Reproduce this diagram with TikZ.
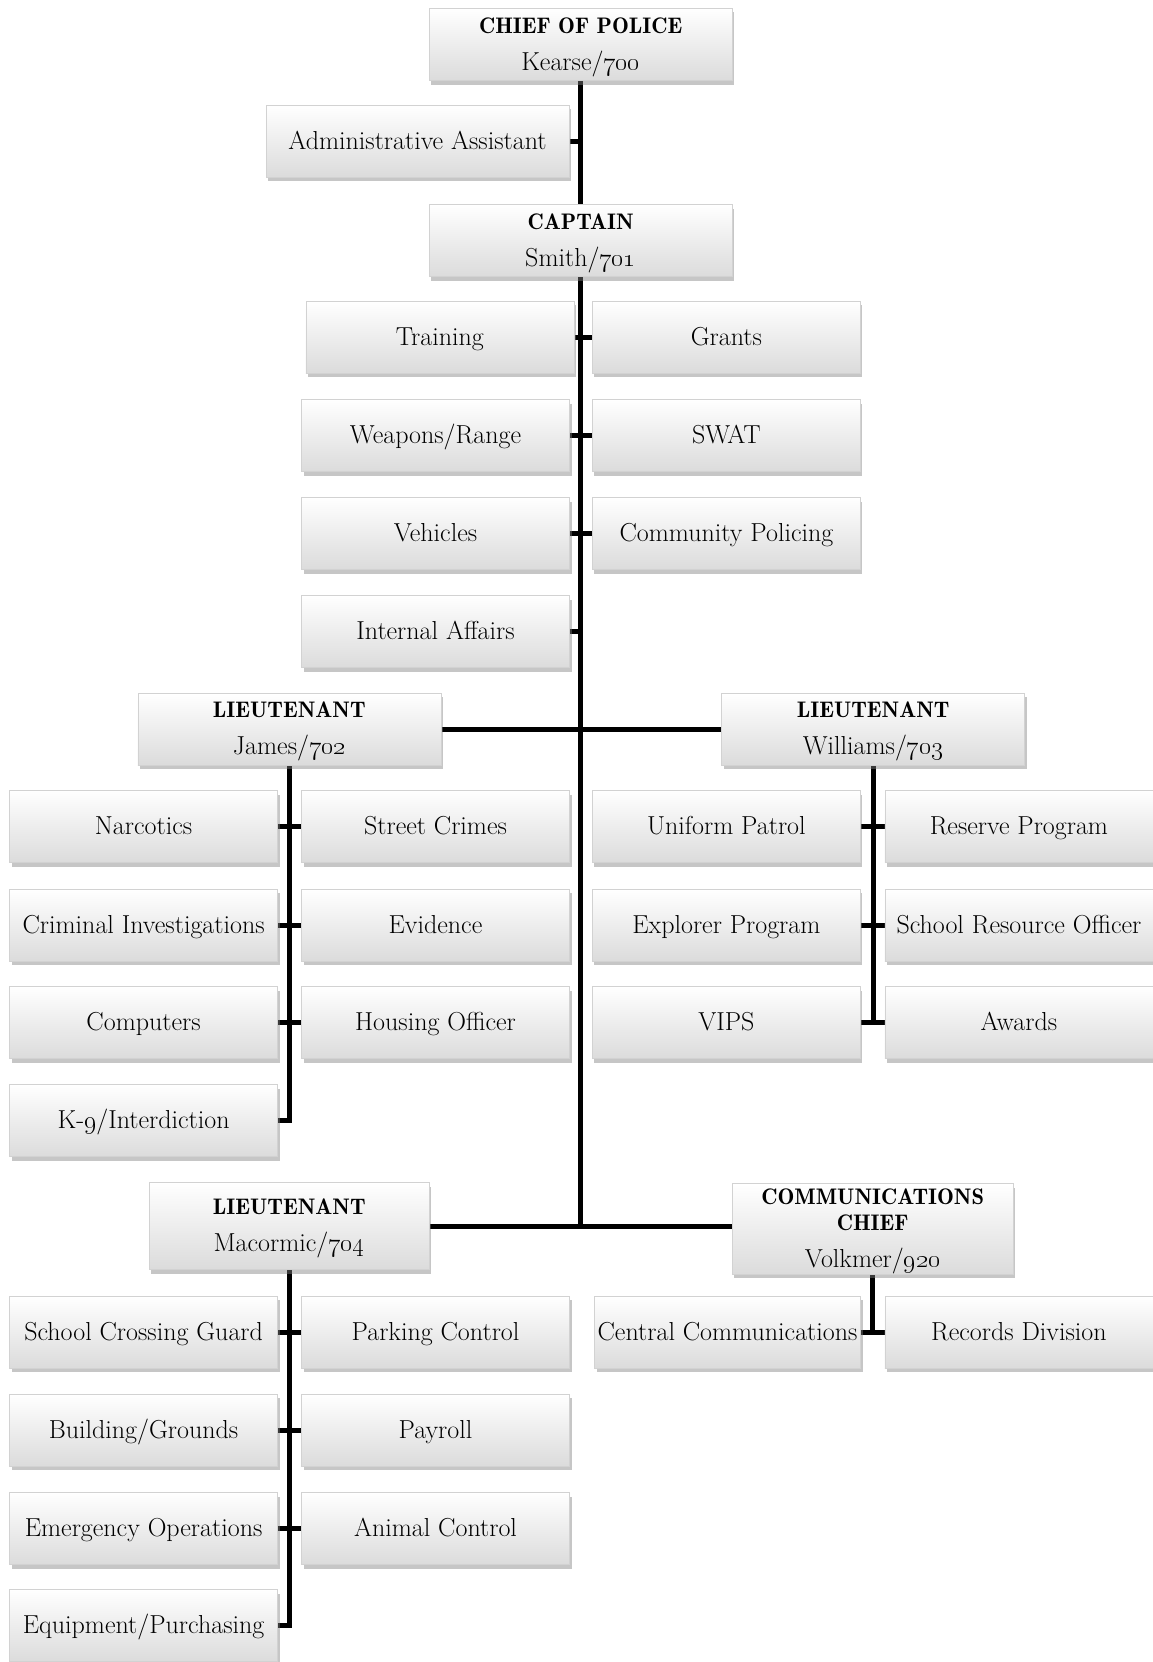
\RequirePackage{fix-cm}
\documentclass[tikz,border=0pt]{standalone}
\usetikzlibrary{shadows,backgrounds}
\newcommand\ttl[1]{{\fontsize{22.5}{37}\fontseries{b}\selectfont\rule{0pt}{21pt}#1}}
\begin{document}
\begin{tikzpicture}[x=1pt,y=-1pt]
\tikzset{
 cell/.style={rectangle, top color=white, bottom color=gray!28, draw=gray!35, line width=0.6pt,
   minimum width=268pt, minimum height=72pt, inner sep=0pt, align=center,
   font=\fontsize{26}{37}\selectfont,
   drop shadow={shadow xshift=2pt, shadow yshift=-4pt, opacity=0.45, fill=gray}},
 box/.style={cell, text height=20pt, text depth=4pt},
 head/.style={cell, minimum width=303pt},
 conn/.style={line width=5pt, black},
}
\useasboundingbox (0,0) rectangle (1153,1662);
% top
\node[head] (chief) at (580.7,44.5) {\ttl{CHIEF OF POLICE}\\Kearse/\oldstylenums{700}};
\node[head, text height=20pt, text depth=4pt] (admin) at (417.5,141) {Administrative Assistant};
\node[head] (captain) at (580.7,240.5) {\ttl{CAPTAIN}\\Smith/\oldstylenums{701}};
% captain staff
\node[box] (train) at (439.8,337) {Training};
\node[box] (grants) at (726.4,337) {Grants};
\node[box] (weap) at (435.5,435.5) {Weapons/Range};
\node[box] (swat) at (726.4,435.5) {SWAT};
\node[box] (veh) at (435.5,533.5) {Vehicles};
\node[box] (compol) at (726.4,533.5) {Community Policing};
\node[box] (ia) at (435.5,631.6) {Internal Affairs};
% lieutenants
\node[head] (james) at (289.3,729) {\ttl{LIEUTENANT}\\James/\oldstylenums{702}};
\node[head] (will) at (873.2,729) {\ttl{LIEUTENANT}\\Williams/\oldstylenums{703}};
% James
\node[box] (narc) at (143.6,826.6) {Narcotics};
\node[box] (street) at (435.5,826.6) {Street Crimes};
\node[box] (crim) at (143.6,925.1) {Criminal Investigations};
\node[box] (evid) at (435.5,925.1) {Evidence};
\node[box] (comp) at (143.6,1022.6) {Computers};
\node[box] (housing) at (435.5,1022.6) {Housing Officer};
\node[box] (k9) at (143.6,1120.6) {K-\oldstylenums{9}/Interdiction};
% Williams
\node[box] (unif) at (726.4,826.6) {Uniform Patrol};
\node[box] (reserve) at (1018.9,826.6) {Reserve Program};
\node[box] (expl) at (726.4,925.1) {Explorer Program};
\node[box] (sro) at (1018.9,925.1) {School Resource Officer};
\node[box] (vips) at (726.4,1022.6) {VIPS};
\node[box] (awards) at (1018.9,1022.6) {Awards};
% Macormic
\node[head, minimum width=280pt, minimum height=87pt] (mac) at (289.3,1226) {\ttl{LIEUTENANT}\\Macormic/\oldstylenums{704}};
\node[head, minimum width=281pt, minimum height=87pt] (cchief) at (872.7,1229)
  {\ttl{COMMUNICATIONS}\\[-11pt]\ttl{CHIEF}\\Volkmer/\oldstylenums{920}};
\node[box] (scg) at (143.6,1332) {School Crossing Guard};
\node[box] (parking) at (435.5,1332) {Parking Control};
\node[box] (bldg) at (143.6,1430) {Building/Grounds};
\node[box] (payroll) at (435.5,1430) {Payroll};
\node[box] (emerg) at (143.6,1528.6) {Emergency Operations};
\node[box] (animal) at (435.5,1528.6) {Animal Control};
\node[box] (equip) at (143.6,1625.6) {Equipment/Purchasing};
\node[box, minimum width=266pt] (central) at (727.5,1332) {Central Communications};
\node[box] (records) at (1018.9,1332) {Records Division};
% connectors
\begin{scope}[on background layer]
\draw[conn] (chief.south) |- (mac.east);
\draw[conn] (admin.east) -- (admin.east -| chief.south);
\draw[conn] (train.east) -- (grants.west);
\draw[conn] (weap.east) -- (swat.west);
\draw[conn] (veh.east) -- (compol.west);
\draw[conn] (ia.east) -- (ia.east -| chief.south);
\draw[conn] (james.east) -- (will.west);
\draw[conn] (james.south) |- (k9.east);
\draw[conn] (narc.east) -- (street.west);
\draw[conn] (crim.east) -- (evid.west);
\draw[conn] (comp.east) -- (housing.west);
\draw[conn] (will.south) |- (vips.east);
\draw[conn] (unif.east) -- (reserve.west);
\draw[conn] (expl.east) -- (sro.west);
\draw[conn] (vips.east) -- (awards.west);
\draw[conn] (mac.east) -- (mac.east -| cchief.west);
\draw[conn] (mac.south) |- (equip.east);
\draw[conn] (scg.east) -- (parking.west);
\draw[conn] (bldg.east) -- (payroll.west);
\draw[conn] (emerg.east) -- (animal.west);
\draw[conn] (cchief.south) |- (central.east);
\draw[conn] (central.east) -- (records.west);
\end{scope}
\end{tikzpicture}
\end{document}
